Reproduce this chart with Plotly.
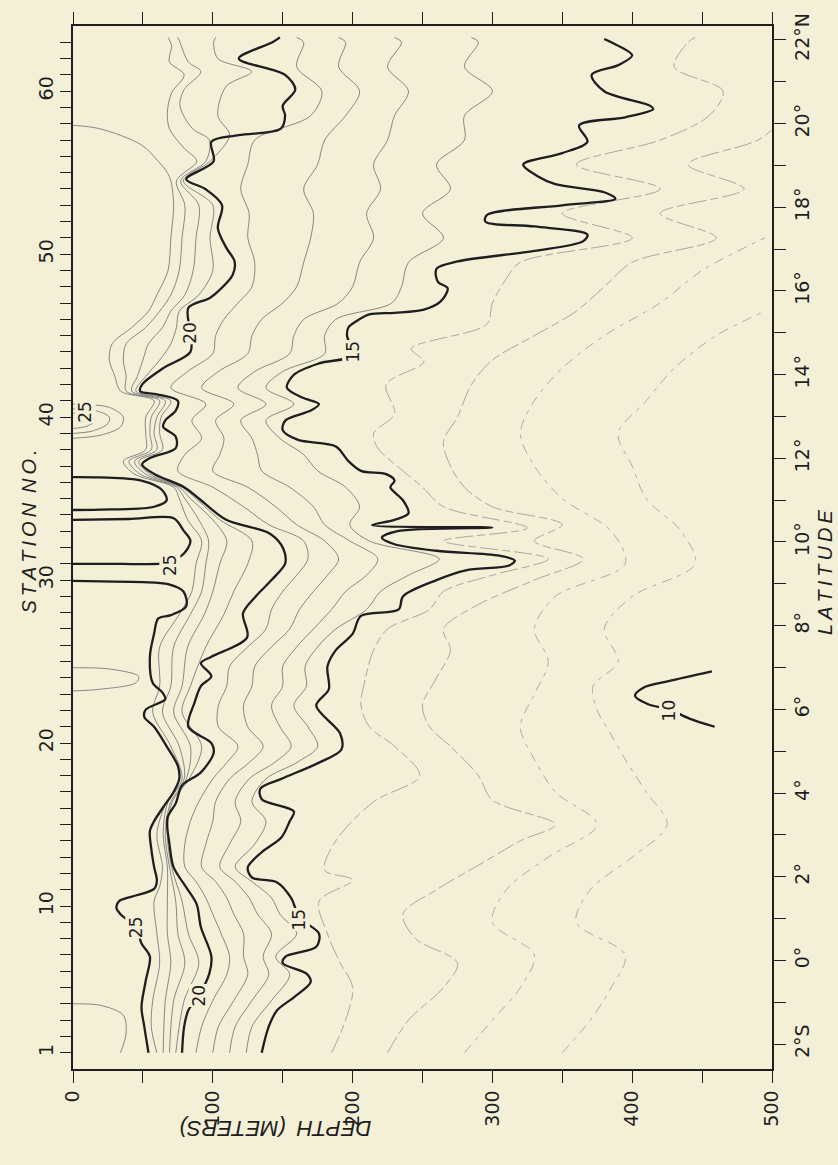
import plotly.graph_objects as go

# ---------------- data ----------------
# Isotherm depths (m) at station positions; None separates pieces of one isotherm.
ST25 = [1.0, 2.6, 3.8, 5.4, 6.9, 7.7, 8.7, 9.5, 9.9, 10.3, 10.6, 11.05, 11.55, 12.4, 13.5, 14.6, 15.2, 16.0,
        17.0, 17.8, 18.6, 19.8, 21.0, 21.6, 22.05, 22.7, 23.1, 23.7, 25.3, 26.7, 27.65, 27.85, 28.4, 29.3,
        29.75, 29.88, 29.92, 29.95,
        None, 31.0, 31.0, 31.05, 31.6, 32.4, 33.05, 33.8, 33.75, 33.7,
        None, 34.3, 34.32, 34.5, 34.9, 35.5, 36.1, 36.3, 36.32]
D25 = [54, 51, 49, 52, 55, 49, 45, 34, 31, 33, 43, 58, 60, 58, 56, 55, 58, 64,
       72, 76, 75, 67, 58, 51, 52, 66, 64, 57, 55, 58, 61, 70, 81, 79,
       68, 50, 20, 0,
       None, 0, 35, 66, 79, 84, 79, 72, 40, 0,
       None, 0, 19, 58, 67, 64, 49, 19, 0]

ST20 = [1.0, 2.6, 3.6, 4.5, 5.85, 6.9, 8.7, 10.1, 11.15, 12.37, 13.8, 15.4, 16.3, 17.4, 18.2, 19.4, 20.0, 21.0,
        22.5, 23.5, 24.1, 24.9, 25.3, 26.5, 27.96, 29.0, 30.0, 31.0, 31.6, 32.2, 32.9, 33.7, 34.9, 35.7, 36.5,
        37.1, 37.5, 38.1, 38.8, 39.4, 39.8, 40.4, 41.0, 41.4, 41.6, 42.0, 43.0, 44.0, 45.2, 46.7, 47.3, 47.7,
        48.7, 49.55, 50.4, 51.6, 53.0, 54.0, 54.6, 55.7, 56.9, 57.3, 57.7, 58.5, 59.1, 60.1, 61.0, 62.0, 63.0, 63.3]
D20 = [78, 79.5, 82.5, 90, 97.5, 99, 91.5, 88.5, 81, 72, 69, 67.5, 73.5, 78, 91.5, 100.6, 99, 82.5,
       87, 91.5, 99, 91.5, 99, 124.6, 121.6, 130.7, 142, 151.7, 151.7, 148.7, 139.7, 109.6, 91.5, 79.5, 58.4,
       49.4, 55.4, 73.5, 73.5, 64.5, 66, 73.5, 75, 60, 48, 49.4, 64.5, 84, 84, 82.5, 97.6, 103.6,
       114.1, 115.6, 109.6, 103.6, 106.6, 94.6, 81, 100.6, 99, 118.6, 148.7, 151.7, 150, 159, 151.7, 118.6, 142.7, 148]

ST15 = [1.0, 2.6, 3.6, 4.4, 5.34, 5.85, 6.5, 6.9, 7.5, 8.3, 9.3, 10.5, 11.45, 11.75, 12.37, 13.3, 14.2, 15.2,
        15.8, 16.55, 17.2, 17.8, 18.8, 19.6, 20.6, 22.3, 23.3, 24.7, 25.7, 26.7, 27.8, 28.2, 29.0, 30.0, 30.6,
        30.9, 31.2, 31.5, 31.8, 32.2, 32.6, 33.0, 33.22, 33.38, 33.7, 34.1, 34.9, 35.7, 36.1, 36.5, 36.7, 37.3,
        38.2, 38.6, 39.2, 39.8, 40.4, 40.8, 41.2, 41.8, 42.6, 43.3, 43.8, 45.0, 45.5, 45.9, 46.3, 46.4, 46.6,
        47.1, 47.9, 48.3, 49.1, 49.55, 50.2, 50.8, 51.2, 51.7, 52.0, 52.4, 53.0, 53.4, 53.8, 54.3, 54.8, 55.5,
        56.2, 56.9, 57.9, 58.4, 58.9, 59.1, 60.0, 61.0, 61.6, 62.2, 63.0, 63.2]
D15 = [135, 140, 146, 158, 170, 167, 150, 152, 174, 176, 162, 156, 146, 128, 125, 135, 149, 155,
       158, 135, 134, 149, 176, 192, 191, 174, 183, 182, 188, 200, 206, 233, 236, 260, 281,
       312, 316, 305, 260, 230, 221, 232, 300, 214, 230, 240, 236, 227, 230, 224, 206, 197,
       188, 161, 150, 152, 170, 176, 164, 153, 158, 176, 200, 196, 197, 203, 212, 230, 251,
       263, 268, 261, 260, 275, 330, 365, 368, 330, 295, 296, 350, 388, 380, 345, 332, 322,
       350, 368, 362, 395, 415, 413, 380, 371, 390, 400, 385, 380]

ST10 = [21.0, 21.5, 22.05, 22.4, 22.9, 23.4, 23.8, 24.4]
D10 = [459, 441, 427, 411, 402, 408, 426, 457]

# thin isotherms near the surface
ST26 = [1.0, 2.2, 3.3, 3.9, 4.0, None, 23.2, 23.3, 23.7, 24.1, 24.5, 24.6, 24.62,
        None, 38.7, 38.9, 39.4, 40.0, 40.6, 40.8]
D26 = [34, 38, 36, 20, 0, None, 0, 19, 45, 47, 30, 19, 0,
       None, 0, 20, 34, 36, 26, 0]
ST27 = [39.0, 39.15, 39.6, 40.0, 40.4, 40.5, None, 39.3, 39.45, 39.8, 40.15, 40.25]
D27 = [0, 14, 25, 26, 16, 0, None, 0, 10, 16, 10, 0]

ST24 = [1, 2.6, 4.2, 6.5, 8.3, 10.3, 11.2, 12.4, 14.4, 16.4, 17.8, 19.8, 21.9, 23.5, 25.9, 27.9, 29.3, 31, 32.4,
        33.7, 35, 35.7, 36.5, 37.3, 38, 39, 40, 41, 41.6, 42.5, 43.5, 44.5, 45.5, 46.5, 47.5, 49, 51, 53, 54.5,
        55.0, 55.7, 56.7, 57.7, 57.9]
D24 = [60, 56, 57, 62, 60, 58, 62, 64, 60, 67, 78, 70, 57, 62, 62, 76, 85, 88, 92,
       82, 76, 72, 44, 36, 52, 52, 52, 58, 34, 30, 26, 28, 42, 54, 60, 68, 70, 72, 70,
       67.5, 61, 49, 19, 0]

ST23 = [1, 4.2, 6.5, 8.3, 10.3, 12.4, 14.4, 16.4, 17.8, 19.8, 21.9, 23.5, 25.9, 27.9, 29.3, 31, 32.4, 33.7, 35,
        35.7, 36.5, 37.3, 38, 39, 40, 41, 41.6, 42.5, 43.5, 44.5, 45.5, 46.5, 47.5, 49, 51, 53, 54.5, 55.7, 56.5,
        57.7, 58.7, 59.9, 61, 61.8, 62.8, 63.3]
D23 = [64.5, 66, 70, 67.5, 67.5, 67.5, 64.5, 68, 79.5, 76, 64, 70, 72, 84, 92, 95, 97, 90, 80,
       74, 48, 40, 56, 55, 56, 62, 38, 38, 36, 38, 52, 62, 70, 76, 78, 80, 74, 88.5, 79.5,
       69, 67.5, 70.5, 79.5, 69, 70.5, 68]

ST22 = [1, 4.2, 6.5, 8.3, 10.3, 12.4, 14.4, 16.4, 17.8, 19.8, 21.9, 23.5, 25.9, 27.9, 29.3, 31, 32.4, 33.7, 35,
        35.7, 36.5, 37.3, 38, 39, 40, 41, 41.6, 42.5, 43.5, 44.5, 45.5, 46.5, 47.5, 49, 51, 53, 54.5, 55.7, 57,
        57.7, 59.1, 60.1, 61.2, 61.8, 63, 63.3]
D22 = [69, 72, 80, 75, 73.5, 69, 66, 70, 81, 84, 72, 78, 82, 94, 100, 105, 110, 100, 84,
       76, 52, 44, 60, 58, 60, 66, 42, 46, 50, 54, 64, 70, 80, 86, 88, 90, 77, 95, 97.5,
       85.5, 76.5, 79.5, 91.5, 82.5, 76.5, 75]

ST21 = [1, 4.2, 6.5, 8.3, 10.3, 12.4, 14.4, 16.4, 17.8, 19.8, 21.9, 23.5, 25.9, 27.9, 29.3, 31, 32.4, 33.7, 35,
        35.7, 36.5, 37.3, 38, 39, 40, 41, 41.6, 42.5, 43.5, 44.5, 45.5, 46.5, 47.5, 49, 51, 53, 54.5, 55.7, 57.3,
        58.5, 60.3, 61.2, 62, 63, 63.3]
D21 = [73.5, 79.5, 90, 82.5, 78, 70.5, 67.5, 71, 83, 92, 78, 84, 95, 108, 115, 125, 128, 105, 88,
       78, 55, 47, 64, 62, 63, 70, 45, 52, 62, 70, 74, 76, 90, 100, 98, 100, 79, 98, 112,
       103.6, 109.6, 127.7, 103.6, 100.6, 102]

ST_MID = [1, 2.6, 4.2, 5.8, 6.9, 8.3, 9.5, 10.5, 11.5, 12.4, 13.8, 15.2, 16.4, 17.8, 18.8, 19.8, 21, 22.3, 23.5,
          24.7, 25.9, 27, 28.2, 29.3, 30.3, 31.3, 32.4, 33.4, 34.5, 35.7, 36.7, 37.7, 38.7, 39.8, 40.8, 41.8,
          42.8, 43.9, 45, 46, 47, 48, 49.5, 51, 52.5, 54, 55.5, 57, 58.5, 60, 61.5, 63, 63.3]
D19 = [88, 92, 100, 110, 112, 106, 100, 95, 88, 80, 80, 84, 90, 100, 110, 118, 104, 104, 110,
       112, 125, 138, 142, 150, 160, 168, 165, 140, 122, 100, 75, 80, 92, 85, 95, 70,
       82, 100, 102, 108, 118, 128, 130, 125, 126, 120, 125, 130, 170, 178, 160, 165, 160]
D18 = [100, 104, 115, 125, 122, 122, 115, 110, 102, 92, 95, 100, 102, 112, 126, 136, 125, 122, 128,
       130, 142, 155, 162, 172, 182, 190, 180, 160, 145, 125, 100, 105, 108, 102, 115, 92,
       104, 125, 128, 135, 150, 160, 165, 170, 172, 165, 175, 180, 195, 205, 190, 195, 190]
D17 = [112, 116, 128, 140, 136, 142, 132, 126, 116, 105, 112, 120, 116, 126, 144, 156, 148, 142, 150,
       150, 160, 172, 185, 195, 210, 218, 198, 180, 172, 155, 135, 132, 128, 120, 138, 118,
       130, 155, 158, 165, 190, 200, 205, 215, 210, 220, 215, 225, 230, 240, 225, 235, 230]
D16 = [124, 128, 142, 155, 145, 160, 148, 142, 128, 116, 130, 138, 128, 138, 160, 175, 168, 158, 167,
       166, 175, 188, 210, 220, 240, 262, 212, 198, 205, 195, 175, 165, 148, 138, 158, 138,
       150, 180, 180, 188, 228, 235, 240, 265, 250, 270, 260, 280, 280, 300, 280, 290, 285]

ST14 = [1, 3, 5, 6.7, 8.3, 10.3, 11.6, 12.2, 14, 16.4, 18, 19.8, 21, 22.3, 23.9, 25.7, 27, 28.2, 29.3, 30.3,
        31.3, 32.4, 33.2, 34.5, 35.7, 36.7, 38.1, 39, 40.2, 42, 43.4, 44.2, 45.7, 47, 48.5, 49.5, 51, 52.5,
        54, 55.5, 57, 58.5, 60, 61.5, 63, 63.3]
D14 = [185, 195, 200, 190, 182, 176, 200, 180, 188, 215, 248, 230, 212, 206, 209, 215, 225, 255, 265, 300,
       340, 265, 325, 265, 250, 236, 218, 215, 230, 224, 251, 242, 296, 300, 310, 320, 400, 350,
       420, 360, 420, 455, 465, 430, 440, 445]

ST13 = [1, 3, 5, 6.5, 8, 9.5, 11, 12.5, 14, 15, 16.5, 18, 19.8, 21, 22.3, 24, 25.7, 27, 28.5, 30, 31.3, 32.4,
        33.4, 34.5, 35.7, 37, 38.5, 40, 42, 43.5, 45, 46.5, 48, 49.5, 51, 52.5, 54, 55.5, 57, 58]
D13 = [225, 240, 265, 275, 245, 236, 260, 290, 320, 345, 300, 290, 270, 255, 250, 260, 270, 265, 290, 330,
       365, 330, 350, 300, 280, 270, 265, 275, 285, 300, 330, 360, 380, 400, 460, 420, 480, 440, 490, 505]

ST12 = [1, 3, 5, 7, 9, 11, 13, 15, 17, 19, 21, 23, 25, 27, 29, 31, 33, 35, 37, 39, 41, 43, 45, 47, 49, 51]
D12 = [280, 300, 320, 330, 300, 310, 340, 375, 345, 330, 320, 330, 340, 330, 345, 395, 385, 350, 330, 320,
       330, 350, 380, 420, 450, 495]

ST11 = [1, 3, 5, 7, 9, 11, 13, 15, 17, 19, 20.5, 22, 23.5, 25, 27, 29, 31, 33, 35, 37, 39, 41, 43, 45, 46.5]
D11 = [350, 370, 385, 395, 360, 370, 400, 425, 410, 395, 385, 375, 372, 390, 380, 400, 445, 435, 410, 400,
       390, 410, 430, 460, 495]

# contour labels
LBL_TEXT = ['25', '20', '15', '25', '20', '15', '10', '25']
LBL_STATION = [8.7, 4.5, 9.2, 30.95, 45.2, 44.0, 22.0, 40.3]
LBL_DEPTH = [45, 90, 162, 69, 84, 200, 427, 9]

# axis ticks
DEPTH_TICKS = list(range(0, 501, 50))
DEPTH_LABELS = [str(v) if v % 100 == 0 else '' for v in DEPTH_TICKS]
STATION_TICKS = list(range(1, 64))
STATION_LABELS = [str(v) if v in (1, 10, 20, 30, 40, 50, 60) else '' for v in STATION_TICKS]
LAT_TICKS = list(range(-2, 23))
LAT_LABELS = []
for v in LAT_TICKS:
    if v == -2:
        LAT_LABELS.append('2°S')
    elif v == 22:
        LAT_LABELS.append('22°N')
    elif v % 2 == 0:
        LAT_LABELS.append(f'{v}°')
    else:
        LAT_LABELS.append('')

# ---------------- figure ----------------
PAPER = '#f4efd7'
INK = '#1e1e1e'
FONT = 'DejaVu Sans, Liberation Sans, sans-serif'
TFONT = 'Liberation Sans, Arial, sans-serif'

fig = go.Figure()


def add_iso(st, d, width, color, dash='solid'):
    fig.add_trace(go.Scatter(
        x=d, y=st, mode='lines',
        line=dict(color=color, width=width, shape='spline', smoothing=0.9, dash=dash),
        connectgaps=False, hoverinfo='skip', showlegend=False))


thin = '#747474'
faint = '#999999'
for st, d in [(ST27, D27), (ST26, D26), (ST24, D24), (ST23, D23), (ST22, D22), (ST21, D21),
              (ST_MID, D19), (ST_MID, D18), (ST_MID, D17), (ST_MID, D16)]:
    add_iso(st, d, 0.85, thin)
for st, d in [(ST14, D14), (ST13, D13)]:
    add_iso(st, d, 0.85, faint, dash='18px,4px,8px,4px')
for st, d in [(ST12, D12), (ST11, D11)]:
    add_iso(st, d, 0.8, faint, dash='10px,6px,4px,6px')
for st, d in [(ST25, D25), (ST20, D20), (ST15, D15), (ST10, D10)]:
    add_iso(st, d, 2.3, INK)

# empty trace that carries the latitude axis on the right
fig.add_trace(go.Scatter(x=[], y=[], yaxis='y2', mode='lines', showlegend=False, hoverinfo='skip'))

for t, s, dd in zip(LBL_TEXT, LBL_STATION, LBL_DEPTH):
    fig.add_annotation(x=dd, y=s, xref='x', yref='y', text=t, showarrow=False, textangle=-90,
                       font=dict(family=FONT, size=17, color=INK), bgcolor=PAPER, borderpad=0)

TH = '\u2009'
fig.add_annotation(x=-0.081, y=33.0, xref='paper', yref='y',
                   text='<i>' + TH.join('STATION') + '\u2002' + TH.join('NO.') + '</i>',
                   showarrow=False, textangle=-90, font=dict(family=TFONT, size=20, color=INK))
fig.add_annotation(x=1.0944, y=30.5, xref='paper', yref='y', xanchor='right',
                   text='<i>' + TH.join('LATITUDE') + '</i>', showarrow=False,
                   textangle=-90, font=dict(family=TFONT, size=20, color=INK))
fig.add_annotation(x=145, y=-0.071, xref='x', yref='paper',
                   text='<i>DEPTH\u2002(METERS)</i>', showarrow=False,
                   textangle=180, font=dict(family=TFONT, size=22, color=INK))

axis_common = dict(showgrid=False, zeroline=False, showline=True, linecolor=INK, linewidth=1.6,
                   ticks='outside', tickcolor=INK, tickwidth=1.2, tickangle=-90,
                   tickfont=dict(family=FONT, size=19, color=INK))

fig.update_layout(
    width=838, height=1165,
    margin=dict(l=73, r=66, t=23, b=96),
    paper_bgcolor=PAPER, plot_bgcolor=PAPER,
    xaxis=dict(range=[0, 500], tickmode='array', tickvals=DEPTH_TICKS, ticktext=DEPTH_LABELS,
               ticklen=12, mirror='ticks', **axis_common),
    yaxis=dict(range=[0, 64], tickmode='array', tickvals=STATION_TICKS, ticktext=STATION_LABELS,
               ticklen=11, **axis_common),
    yaxis2=dict(range=[-2.596, 22.33], overlaying='y', side='right', anchor='x', tickmode='array',
                tickvals=LAT_TICKS, ticktext=LAT_LABELS, ticklen=12, **axis_common),
)

fig.write_html('out.html')
